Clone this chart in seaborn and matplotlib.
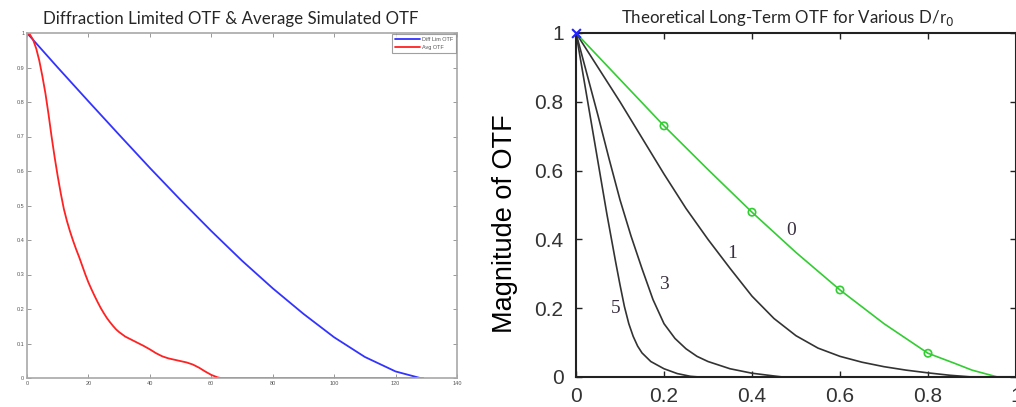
import numpy as np
import pandas as pd
import seaborn as sns
import matplotlib.pyplot as plt

# --- left panel: diffraction limited vs averaged simulated OTF ---
diff_x = [0, 10, 20, 30, 40, 50, 60, 70, 80, 90, 100, 110, 120, 128]
diff_y = [1.0, 0.90, 0.802, 0.705, 0.609, 0.516, 0.426, 0.340, 0.260, 0.186, 0.118, 0.061, 0.019, 0.0]

avg_x = [0, 1, 2, 3, 4, 5, 6, 7, 8, 9, 10, 11, 12, 13, 14, 15, 16, 17, 18, 19, 20,
         21, 22, 23, 24, 25, 26, 27, 28, 29, 30, 32, 34, 36, 38, 40, 42, 44, 46, 48,
         50, 52, 54, 56, 58, 60, 62, 63, 80, 100, 120, 129]
avg_y = [1.0, 0.995, 0.98, 0.955, 0.92, 0.875, 0.825, 0.765, 0.70, 0.64, 0.585, 0.535,
         0.49, 0.455, 0.425, 0.398, 0.373, 0.35, 0.325, 0.30, 0.277, 0.257, 0.238, 0.22,
         0.203, 0.188, 0.174, 0.162, 0.151, 0.141, 0.133, 0.12, 0.111, 0.102, 0.093,
         0.083, 0.072, 0.063, 0.057, 0.053, 0.049, 0.045, 0.039, 0.03, 0.019, 0.009,
         0.002, 0.0, 0.0, 0.0, 0.0, 0.0]

left_xticks = [0, 20, 40, 60, 80, 100, 120, 140]
left_yticks = [0, 0.1, 0.2, 0.3, 0.4, 0.5, 0.6, 0.7, 0.8, 0.9, 1]
left_ylabels = ['0', '0.1', '0.2', '0.3', '0.4', '0.5', '0.6', '0.7', '0.8', '0.9', '1']

# --- right panel: theoretical long-term OTF for D/r0 = 0, 1, 3, 5 ---
otf0_x = [0, 0.1, 0.2, 0.3, 0.4, 0.5, 0.6, 0.7, 0.8, 0.86, 0.9, 0.958]
otf0_y = [1, 0.865, 0.73, 0.603, 0.479, 0.362, 0.253, 0.155, 0.069, 0.04, 0.02, 0.0]
otf0_mark_x = [0.2, 0.4, 0.6, 0.8]
otf0_mark_y = [0.73, 0.479, 0.253, 0.069]

otf1_x = [0, 0.05, 0.1, 0.15, 0.2, 0.25, 0.3, 0.35, 0.4, 0.45, 0.5, 0.55, 0.6,
          0.65, 0.7, 0.75, 0.8, 0.85, 0.9]
otf1_y = [1, 0.9, 0.80, 0.695, 0.59, 0.49, 0.40, 0.316, 0.235, 0.17, 0.12, 0.084,
          0.06, 0.043, 0.03, 0.02, 0.012, 0.005, 0.0]

otf3_x = [0, 0.025, 0.05, 0.075, 0.1, 0.125, 0.15, 0.175, 0.2, 0.225, 0.25, 0.275,
          0.3, 0.35, 0.4, 0.45, 0.47]
otf3_y = [1, 0.88, 0.76, 0.635, 0.515, 0.41, 0.315, 0.225, 0.155, 0.112, 0.082, 0.06,
          0.045, 0.024, 0.011, 0.003, 0.0]

otf5_x = [0, 0.02, 0.04, 0.06, 0.07, 0.08, 0.09, 0.1, 0.11, 0.12, 0.13, 0.14, 0.15,
          0.17, 0.2, 0.23, 0.26, 0.28]
otf5_y = [1, 0.85, 0.70, 0.55, 0.475, 0.405, 0.335, 0.268, 0.205, 0.155, 0.118, 0.09,
          0.07, 0.045, 0.024, 0.01, 0.002, 0.0]

limit_x = [0.84, 1.0]
limit_y = [0, 0]

curve_labels = ['0', '1', '3', '5']
label_x = [0.49, 0.355, 0.199, 0.091]
label_y = [0.427, 0.36, 0.27, 0.2]

right_ticks = [0, 0.2, 0.4, 0.6, 0.8, 1]
right_ticklabels = ['0', '0.2', '0.4', '0.6', '0.8', '1']

sns.set_style("white")
plt.rcParams['font.family'] = ['Liberation Sans', 'DejaVu Sans']

fig = plt.figure(figsize=(10.16, 4.07), dpi=100)
W, H = 1016, 407

# left axes
ax1 = fig.add_axes([27 / W, (H - 378) / H, 430 / W, 345 / H])
sns.lineplot(x=diff_x, y=diff_y, ax=ax1, color='#3333ff', linewidth=1.3,
             estimator=None, sort=False, label='Diff Lim OTF')
sns.lineplot(x=avg_x, y=avg_y, ax=ax1, color='#ff2222', linewidth=1.3,
             estimator=None, sort=False, label='Avg OTF')
ax1.set_xlim(0, 140)
ax1.set_ylim(0, 1)
ax1.set_xticks(left_xticks)
ax1.set_yticks(left_yticks)
ax1.set_yticklabels(left_ylabels)
ax1.tick_params(direction='in', length=3, width=0.6, color='#888888',
                labelsize=4, labelcolor='#555555', pad=2,
                top=True, right=True, bottom=True, left=True)
for s in ax1.spines.values():
    s.set_color('#a8a8a8')
    s.set_linewidth(1.2)
leg = ax1.legend(loc='upper right', fontsize=4, handlelength=4.5, frameon=True,
                 fancybox=False, borderaxespad=0.1, borderpad=0.6, labelspacing=0.5,
                 handletextpad=0.3)
leg.get_frame().set_edgecolor('#888888')
leg.get_frame().set_linewidth(0.8)
for t in leg.get_texts():
    t.set_color('#555555')
fig.text(231 / W, 1 - 19 / H, 'Diffraction Limited OTF & Average Simulated OTF',
         ha='center', va='center', fontsize=12.2, family=['Lato', 'DejaVu Sans'])

# right axes
ax2 = fig.add_axes([576 / W, (H - 377) / H, 440 / W, 344 / H])
sns.lineplot(x=limit_x, y=limit_y, ax=ax2, color='#1a1aff', linewidth=2.2,
             estimator=None, sort=False)
for cx, cy in [(otf5_x, otf5_y), (otf3_x, otf3_y), (otf1_x, otf1_y)]:
    sns.lineplot(x=cx, y=cy, ax=ax2, color='#333333', linewidth=1.2,
                 estimator=None, sort=False)
sns.lineplot(x=otf0_x, y=otf0_y, ax=ax2, color='#33cc33', linewidth=1.2,
             estimator=None, sort=False)
sns.scatterplot(x=otf0_mark_x, y=otf0_mark_y, ax=ax2, marker='o', s=28,
                facecolor='none', edgecolor='#33cc33', linewidth=1.2, zorder=5)
sns.scatterplot(x=[0], y=[1], ax=ax2, marker='x', s=40, color='#2222ff',
                linewidth=1.5, zorder=6, clip_on=False)
for lab, lx, ly in zip(curve_labels, label_x, label_y):
    ax2.text(lx, ly, lab, ha='center', va='center', fontsize=14,
             color='#3a3040', family=['Liberation Serif', 'DejaVu Serif'])
ax2.set_xlim(0, 1.0)
ax2.set_ylim(0, 1)
ax2.set_xticks(right_ticks)
ax2.set_xticklabels(right_ticklabels)
ax2.set_yticks(right_ticks)
ax2.set_yticklabels(right_ticklabels)
ax2.tick_params(direction='in', length=4, width=1, color='#222222',
                labelsize=15, labelcolor='#333333',
                top=True, right=True, bottom=True, left=True)
ax2.tick_params(axis='y', pad=9)
ax2.tick_params(axis='x', pad=7)
for s in ax2.spines.values():
    s.set_color('#222222')
    s.set_linewidth(1.5)
ax2.set_ylabel('Magnitude of OTF', fontsize=19.5, color='black')
ax2.yaxis.set_label_coords((518 - 576) / 440, (377 - 223.5) / 344)
fig.text(788 / W, 1 - 18 / H, 'Theoretical Long-Term OTF for Various D/r$_0$',
         ha='center', va='center', fontsize=12.2, family=['Lato', 'DejaVu Sans'])

fig.savefig('out.png', dpi=100)
